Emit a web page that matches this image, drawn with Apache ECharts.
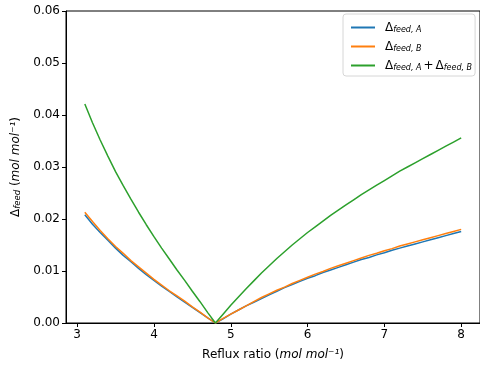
<!DOCTYPE html>
<html>
<head>
<meta charset="utf-8">
<script src="https://cdn.jsdelivr.net/npm/echarts@6.0.0/dist/echarts.min.js"></script>
<style>
  html, body { margin: 0; padding: 0; background: #fff; }
  #chart { width: 480px; height: 370px; }
</style>
</head>
<body>
<div id="chart"></div>
<script>
// reflux ratio values
var reflux = [3.1, 3.2, 3.3, 3.4, 3.5, 3.6, 3.7, 3.8, 3.9, 4.0,
  4.1, 4.2, 4.3, 4.4, 4.5, 4.6, 4.7, 4.8, 4.9, 5.0,
  5.1, 5.2, 5.3, 5.4, 5.5, 5.6, 5.7, 5.8, 5.9, 6.0,
  6.1, 6.2, 6.3, 6.4, 6.5, 6.6, 6.7, 6.8, 6.9, 7.0,
  7.1, 7.2, 7.3, 7.4, 7.5, 7.6, 7.7, 7.8, 7.9, 8.0];

var deltaA = [0.0208, 0.0190, 0.0174, 0.0159, 0.0144, 0.0130, 0.0118, 0.0105, 0.0093, 0.0082,
  0.0071, 0.0061, 0.0050, 0.0040, 0.0030, 0.0020, 0.0010, 0.0000, 0.0008, 0.0017,
  0.0025, 0.0033, 0.0040, 0.0047, 0.0054, 0.0061, 0.0068, 0.0074, 0.0080, 0.0086,
  0.0091, 0.0097, 0.0102, 0.0107, 0.0112, 0.0117, 0.0122, 0.0126, 0.0131, 0.0135,
  0.0140, 0.0144, 0.0148, 0.0152, 0.0156, 0.0160, 0.0164, 0.0168, 0.0172, 0.0176];

var deltaB = [0.0213, 0.0195, 0.0178, 0.0162, 0.0147, 0.0134, 0.0120, 0.0108, 0.0096, 0.0084,
  0.0073, 0.0062, 0.0052, 0.0042, 0.0031, 0.0021, 0.0010, 0.0000, 0.0009, 0.0017,
  0.0025, 0.0033, 0.0041, 0.0049, 0.0056, 0.0063, 0.0069, 0.0076, 0.0082, 0.0088,
  0.0094, 0.0099, 0.0105, 0.0110, 0.0115, 0.0120, 0.0125, 0.0130, 0.0134, 0.0139,
  0.0143, 0.0148, 0.0152, 0.0156, 0.0160, 0.0164, 0.0168, 0.0172, 0.0176, 0.0180];

var deltaSum = [0.0421, 0.0385, 0.0352, 0.0321, 0.0291, 0.0264, 0.0238, 0.0213, 0.0189, 0.0166,
  0.0144, 0.0123, 0.0102, 0.0082, 0.0061, 0.0041, 0.0020, 0.0000, 0.0017, 0.0034,
  0.0050, 0.0066, 0.0081, 0.0096, 0.0110, 0.0124, 0.0137, 0.0150, 0.0162, 0.0174,
  0.0185, 0.0196, 0.0207, 0.0217, 0.0227, 0.0237, 0.0247, 0.0256, 0.0265, 0.0274,
  0.0283, 0.0292, 0.0300, 0.0308, 0.0316, 0.0324, 0.0332, 0.0340, 0.0348, 0.0356];

var xTicks = [3, 4, 5, 6, 7, 8];
var seriesNames = ['A', 'B', 'sum'];
var colors = ['#1f77b4', '#ff7f0e', '#2ca02c'];

var font = 'DejaVu Sans';

function pairs(ys) {
  return reflux.map(function (x, i) { return [x, ys[i]]; });
}

var richText = {
  d0: { fontFamily: font, fontSize: 12, color: '#000', padding: [0, 0, 0, 5] },
  d: { fontFamily: font, fontSize: 12, color: '#000' },
  s: { fontFamily: font, fontSize: 8, fontStyle: 'italic', color: '#000',
       verticalAlign: 'bottom', padding: [5, 0, 0, 0] },
  p: { fontFamily: font, fontSize: 12, color: '#000', padding: [0, 2, 0, 2] }
};

var chart = echarts.init(document.getElementById('chart'));

chart.setOption({
  animation: false,
  color: colors,
  textStyle: { fontFamily: font },
  grid: {
    left: 66, top: 11, right: -5, bottom: 47,
    show: true, borderColor: '#000', borderWidth: 1
  },
  legend: {
    left: 343, top: 14,
    orient: 'vertical',
    icon: 'rect',
    itemWidth: 24, itemHeight: 2,
    itemGap: 6,
    padding: [7, 3, 4, 8],
    borderColor: '#d6d6d6', borderWidth: 1, borderRadius: 3,
    backgroundColor: '#fff',
    data: seriesNames,
    formatter: function (name) {
      if (name === 'A') return '{d0|Δ}{s|feed, A}';
      if (name === 'B') return '{d0|Δ}{s|feed, B}';
      return '{d0|Δ}{s|feed, A}{p|+}{d|Δ}{s|feed, B}';
    },
    textStyle: { rich: richText, lineHeight: 13 }
  },
  xAxis: {
    type: 'value',
    min: 2.855, max: 8.245,
    name: 'Reflux ratio ({i|mol mol⁻¹})',
    nameLocation: 'middle',
    nameGap: 26,
    nameTextStyle: {
      fontFamily: font, fontSize: 12, color: '#000',
      rich: { i: { fontFamily: font, fontSize: 12, fontStyle: 'italic', color: '#000' } }
    },
    splitLine: { show: false },
    axisLine: { onZero: false, lineStyle: { color: '#000', width: 1 } },
    axisTick: { show: true, length: 4, customValues: xTicks, lineStyle: { color: '#000' } },
    axisLabel: { customValues: xTicks, fontFamily: font, fontSize: 12, color: '#000', margin: 6 }
  },
  yAxis: {
    type: 'value',
    min: 0, max: 0.06, interval: 0.01,
    name: '{d|Δ}{s|feed} ({i|mol mol⁻¹})',
    nameLocation: 'middle',
    nameGap: 34,
    nameTextStyle: {
      fontFamily: font, fontSize: 12, color: '#000',
      rich: {
        d: { fontFamily: font, fontSize: 12, color: '#000' },
        s: { fontFamily: font, fontSize: 8.5, fontStyle: 'italic', color: '#000', padding: [5, 0, 0, 0] },
        i: { fontFamily: font, fontSize: 12, fontStyle: 'italic', color: '#000' }
      }
    },
    splitLine: { show: false },
    axisLine: { show: true, lineStyle: { color: '#000', width: 1 } },
    axisTick: { show: true, length: 4, lineStyle: { color: '#000' } },
    axisLabel: {
      fontFamily: font, fontSize: 12, color: '#000', margin: 6,
      formatter: function (v) { return v.toFixed(2); }
    }
  },
  series: [
    { name: 'A', type: 'line', data: pairs(deltaA), showSymbol: false,
      lineStyle: { width: 1.5, color: colors[0] } },
    { name: 'B', type: 'line', data: pairs(deltaB), showSymbol: false,
      lineStyle: { width: 1.5, color: colors[1] } },
    { name: 'sum', type: 'line', data: pairs(deltaSum), showSymbol: false,
      lineStyle: { width: 1.5, color: colors[2] } }
  ]
});
</script>
</body>
</html>
